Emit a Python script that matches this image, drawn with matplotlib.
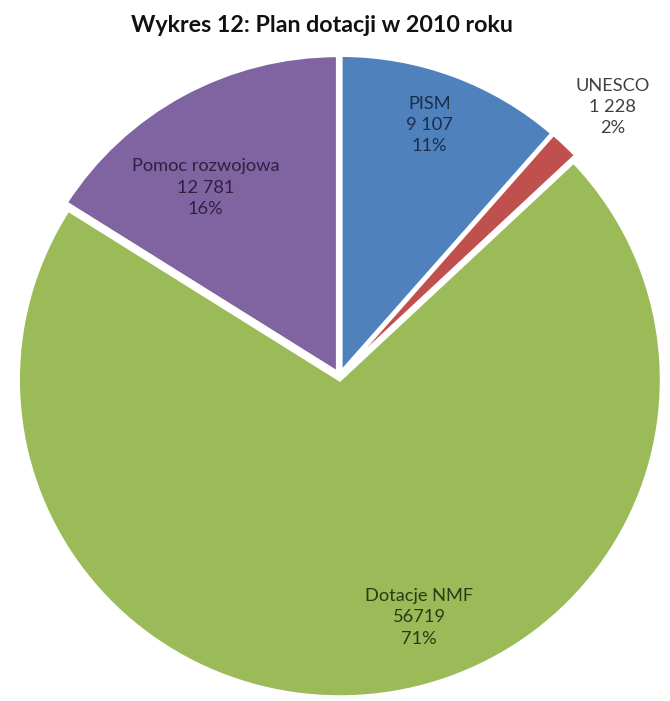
import numpy as np
import matplotlib
matplotlib.use('Agg')
import matplotlib.pyplot as plt

plt.rcParams['font.family'] = ['Lato', 'DejaVu Sans']

# data
categories = ['PISM', 'UNESCO', 'Dotacje NMF', 'Pomoc rozwojowa']
values = [9107, 1228, 56719, 12781]
value_labels = ['9 107', '1 228', '56719', '12 781']
percent_labels = ['11%', '2%', '71%', '16%']

colors = ['#4F81BD', '#C0504D', '#9BBB59', '#8064A2']
text_colors = ['#1c2d4a', '#404040', '#2b3a12', '#2e2140']
# label placement (angle in degrees, radius as fraction of pie radius)
label_pos = [(70.5, 0.84), (45, 1.2), (-72, 0.80), (125, 0.725)]

fig = plt.figure(figsize=(6.7, 7.01), dpi=100)
ax = fig.add_axes([14 / 670, 4 / 701, 651 / 670, 642 / 701])

ex = 0.012
wedges, _ = ax.pie(values, colors=colors, startangle=90, counterclock=False,
                   explode=[ex] * 4, radius=1.0,
                   wedgeprops=dict(edgecolor='white', linewidth=2.5))

texts = []
for i, name in enumerate(categories):
    ang, r = label_pos[i]
    x = r * np.cos(np.radians(ang))
    y = r * np.sin(np.radians(ang))
    t = ax.text(x, y, f"{name}\n{value_labels[i]}\n{percent_labels[i]}",
                ha='center', va='center', fontsize=12, linespacing=1.4,
                color=text_colors[i])
    texts.append(t)

ax.set_xlim(-1 - ex, 1 + ex)
ax.set_ylim(-1 - ex, 1 + ex)
ax.set_aspect('auto')
ax.axis('off')

title = fig.text(322 / 670, 1 - 26 / 701, 'Wykres 12: Plan dotacji w 2010 roku',
                 ha='center', va='center', fontsize=14, fontweight='bold',
                 color='#111111')

# size the text so the widths come out like the original (Calibri is not available)
renderer = fig.canvas.get_renderer()
probe = ax.text(0, 0, 'Pomoc rozwojowa', fontsize=12)
w = probe.get_window_extent(renderer).width
probe.remove()
label_size = 12 * 148 / w
for t in texts:
    t.set_fontsize(label_size)

w = title.get_window_extent(renderer).width
title.set_fontsize(14 * 385 / w)

fig.savefig('out.png', dpi=100)
